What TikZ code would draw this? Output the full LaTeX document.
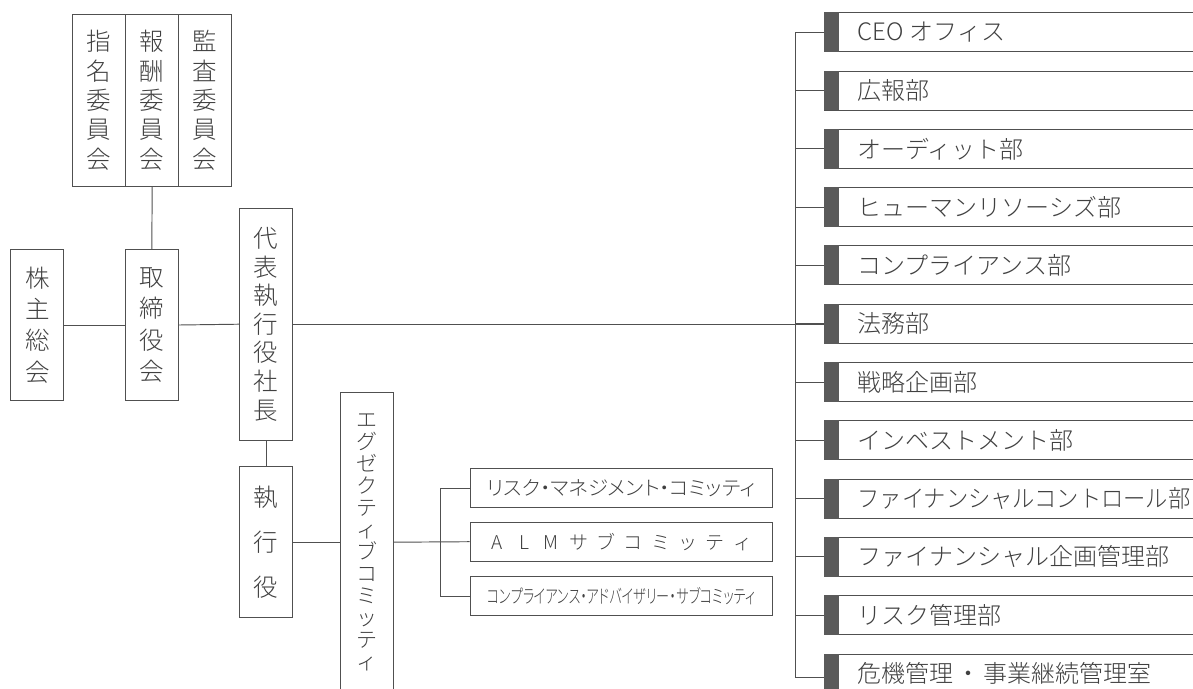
\documentclass[tikz,border=0pt]{standalone}
\usepackage{fontspec}
\usepackage{graphicx}
\IfFontExistsTF{Noto Sans CJK JP Light}{\setmainfont{Noto Sans CJK JP Light}}{\setmainfont{Noto Sans CJK JP}}
\definecolor{ln}{HTML}{505050}
\definecolor{tx}{HTML}{404040}
\definecolor{barc}{HTML}{5A5A5A}
\newcommand\almcell[1]{\makebox[27.3pt]{#1}}
\newcommand\paltfit[2]{\resizebox{#1}{\height}{\addfontfeature{RawFeature=+palt}#2}}
\begin{document}
\begin{tikzpicture}[x=1pt,y=-1pt,line width=0.95pt,
  conn/.style={draw=ln},
  box/.style={draw=ln,rectangle,inner sep=0pt,text=tx},
  vbox/.style={box,align=center},
  sub/.style={box,minimum width=302.3pt,minimum height=38.7pt},
  dept/.style={draw=ln,rectangle,inner sep=0pt,minimum width=372pt,minimum height=39pt,
    text width=372pt,align=left,anchor=west,text=tx,font=\fontsize{24pt}{28pt}\selectfont}]
\useasboundingbox (0,0) rectangle (1193,688);
\clip (0,0) rectangle (1193,688);

% committees
\node[vbox,minimum width=53pt,minimum height=171.7pt,font=\fontsize{24.5pt}{29.3pt}\selectfont] (shimei) at (99.2,100.2) {指\\名\\委\\員\\会};
\node[vbox,minimum width=53pt,minimum height=171.7pt,font=\fontsize{24.5pt}{29.3pt}\selectfont] (hoshu) at (152.2,100.2) {報\\酬\\委\\員\\会};
\node[vbox,minimum width=53pt,minimum height=171.7pt,font=\fontsize{24.5pt}{29.3pt}\selectfont] (kansa) at (205.2,100.2) {監\\査\\委\\員\\会};

% left chain
\node[vbox,minimum width=53.3pt,minimum height=151.4pt,font=\fontsize{24.5pt}{31.3pt}\selectfont] (kabu) at (37.3,325) {株\\主\\総\\会};
\node[vbox,minimum width=53pt,minimum height=151.4pt,font=\fontsize{24.5pt}{31.3pt}\selectfont] (tori) at (151.8,325) {取\\締\\役\\会};
\node[vbox,minimum width=53.4pt,minimum height=231.7pt,font=\fontsize{24.5pt}{28.6pt}\selectfont] (daihyo) at (266,324.2) {代\\表\\執\\行\\役\\社\\長};
\node[vbox,minimum width=53.4pt,minimum height=151pt,font=\fontsize{24.5pt}{45pt}\selectfont] (shikko) at (266,542.2) {執\\行\\役};

% executive committee
\node[box,minimum width=53.3pt,minimum height=320pt,anchor=north] (exec) at (366.7,392.3) {};
\node[align=center,text=tx,inner sep=0pt,anchor=north,font=\fontsize{21pt}{22pt}\selectfont] (execlbl) at (366.7,413) {エ\\グ\\ゼ\\ク\\テ\\ィ\\ブ\\コ\\ミ\\ッ\\テ\\ィ};

% sub committees
\node[sub,font=\fontsize{20pt}{24pt}\selectfont] (sub1) at (621.2,488.3) {\paltfit{268pt}{リスク・マネジメント・コミッティ}};
\node[sub,font=\fontsize{19pt}{24pt}\selectfont] (sub2) at (621.2,541.7) {\hspace*{-3pt}\almcell{A}\almcell{L}\almcell{M}\almcell{サ}\almcell{ブ}\almcell{コ}\almcell{ミ}\almcell{ッ}\almcell{テ}\almcell{ィ}};
\node[sub,font=\fontsize{19pt}{24pt}\selectfont] (sub3) at (621.2,596.2) {\paltfit{268pt}{コンプライアンス・アドバイザリー・サブコミッティ}};

% departments
\foreach \i/\t in {1/{CEO\hspace{6pt}オフィス},2/{広報部},3/{オーディット部},4/{ヒューマンリソーシズ部},5/{コンプライアンス部},6/{法務部},7/{戦略企画部},8/{インベストメント部},9/{\resizebox{333pt}{\height}{ファイナンシャルコントロール部}},10/{ファイナンシャル企画管理部},11/{リスク管理部},12/{危機管理\kern3pt・\kern3pt事業継続管理室}}{
  \node[dept] (d\i) at (824,{32.2+58.3*(\i-1)}) {\hspace*{33pt}\t};
  \fill[barc] (d\i.north west) rectangle ([xshift=15pt]d\i.south west);
}
\coordinate (trunktop) at ([xshift=-29pt]d1.west);
\coordinate (trunkbot) at ([xshift=-29pt,yshift=-4pt]d12.west);

% connectors
\draw[conn] (hoshu.south) -- (tori.north);
\draw[conn] (kabu.east) -- (tori.west);
\draw[conn] (tori.east) -- (daihyo.west);
\draw[conn] (daihyo.east) -- (daihyo.east -| d6.west);
\draw[conn] (daihyo.south) -- (shikko.north);
\draw[conn] (shikko.east) -- (shikko.east -| exec.west);
\draw[conn] (shikko.east -| exec.east) -- (sub2.west);
\draw[conn] (sub1.west) -- ++(-29.3,0) |- (sub3.west);
\draw[conn] (trunktop) -- (d1.west);
\draw[conn] (trunktop) |- (trunkbot) -- ([yshift=-4pt]d12.west);
\foreach \i in {2,...,11}{
  \draw[conn] (d\i.west -| trunktop) -- (d\i.west);
}
\end{tikzpicture}
\end{document}
